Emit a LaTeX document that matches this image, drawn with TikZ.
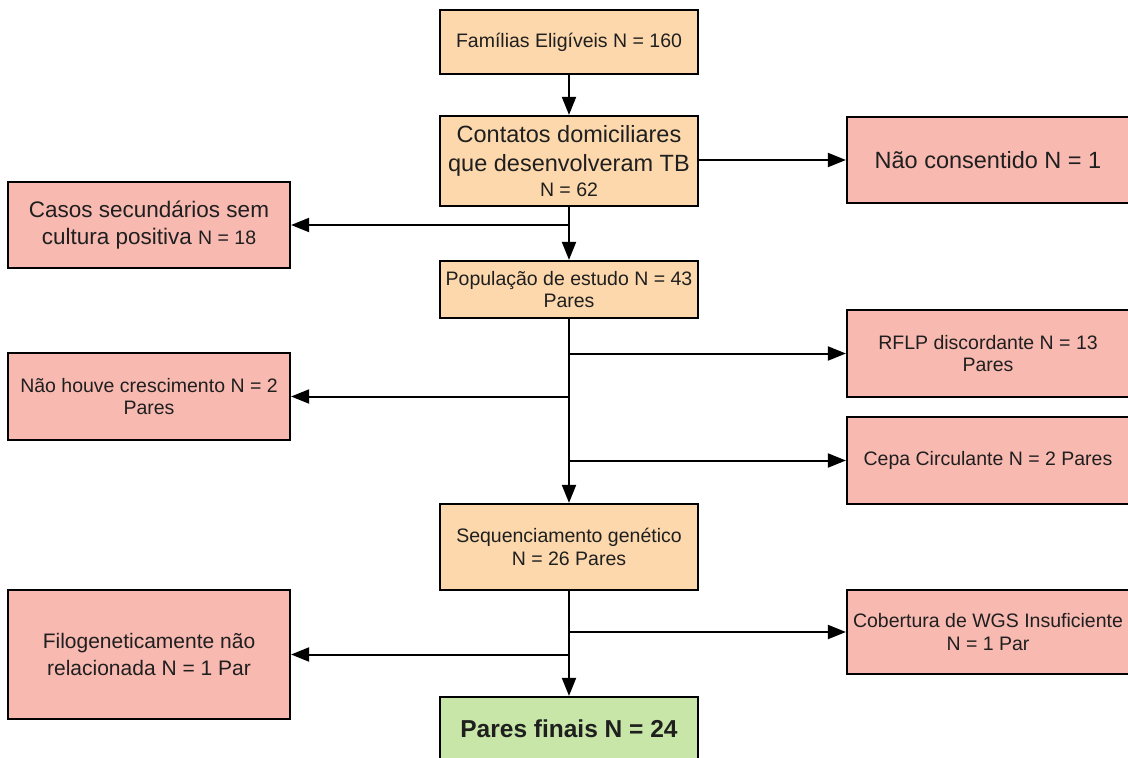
\documentclass[tikz,border=0pt]{standalone}
\usepackage{fontspec}
\setmainfont{Liberation Sans}
\usepackage{xcolor}
\usepackage{tikz}
\usetikzlibrary{arrows.meta}

\definecolor{boxorange}{RGB}{252,216,172}
\definecolor{boxpink}{RGB}{248,185,177}
\definecolor{boxgreen}{RGB}{199,230,167}

\newcommand{\medfont}{\fontsize{19.5}{22.5}\selectfont}
\newcommand{\bigfont}{\fontsize{23.5}{29}\selectfont}

\begin{document}
\begin{tikzpicture}[x=1pt,y=-1pt,
    box/.style={draw, line width=2.2pt, inner sep=0pt, align=center, text=black!88},
    orangebox/.style={box, fill=boxorange, minimum width=258pt},
    pinkbox/.style={box, fill=boxpink, minimum width=282pt},
    greenbox/.style={box, fill=boxgreen, minimum width=258pt},
    flow/.style={line width=2pt, -{Triangle[length=18pt,width=14pt]}}]

    \useasboundingbox (0,0) rectangle (1128,758);
    \clip (0,0) rectangle (1128,758);

    % main column
    \node[orangebox, minimum height=64pt, font=\medfont] (fam) at (569,42) {Famílias Eligíveis N = 160};
    \node[orangebox, minimum height=90pt, font=\bigfont] (cont) at (569,161) {Contatos domiciliares\\que desenvolveram TB\\[-4pt]{\medfont N = 62}};
    \node[orangebox, minimum height=57pt, font=\medfont] (pop) at (569,289.5) {População de estudo N = 43\\Pares};
    \node[orangebox, minimum height=86pt, font=\medfont] (seq) at (569,547) {Sequenciamento genético\\N = 26 Pares};
    \node[greenbox, minimum height=63pt, font=\fontsize{24.5}{29}\selectfont\bfseries] (final) at (569,728.5) {Pares finais N = 24};

    % excluded, right side
    \node[pinkbox, minimum height=86pt, font=\bigfont] (nocon) at (988,160) {Não consentido N = 1};
    \node[pinkbox, minimum height=87pt, font=\medfont] (rflp) at (988,353.5) {RFLP discordante N = 13\\Pares};
    \node[pinkbox, minimum height=87pt, font=\medfont] (cepa) at (988,460.5) {Cepa Circulante N = 2 Pares};
    \node[pinkbox, minimum height=84pt, font=\medfont] (cob) at (988,632) {Cobertura de WGS Insuficiente\\N = 1 Par};

    % excluded, left side
    \node[pinkbox, minimum height=86pt, font=\fontsize{22.5}{27}\selectfont] (casos) at (149,225) {Casos secundários sem\\cultura positiva {\medfont N = 18}};
    \node[pinkbox, minimum height=87pt, font=\medfont] (nohouve) at (149,396.5) {Não houve crescimento N = 2\\Pares};
    \node[pinkbox, minimum height=129pt, font=\fontsize{21}{27}\selectfont] (filo) at (149,654.5) {Filogeneticamente não\\relacionada N = 1 Par};

    % connectors
    \draw[flow] (fam) -- (cont);
    \draw[flow] (cont.east |- nocon.west) -- (nocon.west);
    \draw[flow] (cont) -- (pop);
    \draw[flow] (cont.south |- casos.east) -- (casos.east);
    \draw[flow] (pop) -- (seq);
    \draw[flow] (pop.south |- rflp.west) -- (rflp.west);
    \draw[flow] (pop.south |- nohouve.east) -- (nohouve.east);
    \draw[flow] (pop.south |- cepa.west) -- (cepa.west);
    \draw[flow] (seq) -- (final);
    \draw[flow] (seq.south |- cob.west) -- (cob.west);
    \draw[flow] (seq.south |- filo.east) -- (filo.east);
\end{tikzpicture}
\end{document}
